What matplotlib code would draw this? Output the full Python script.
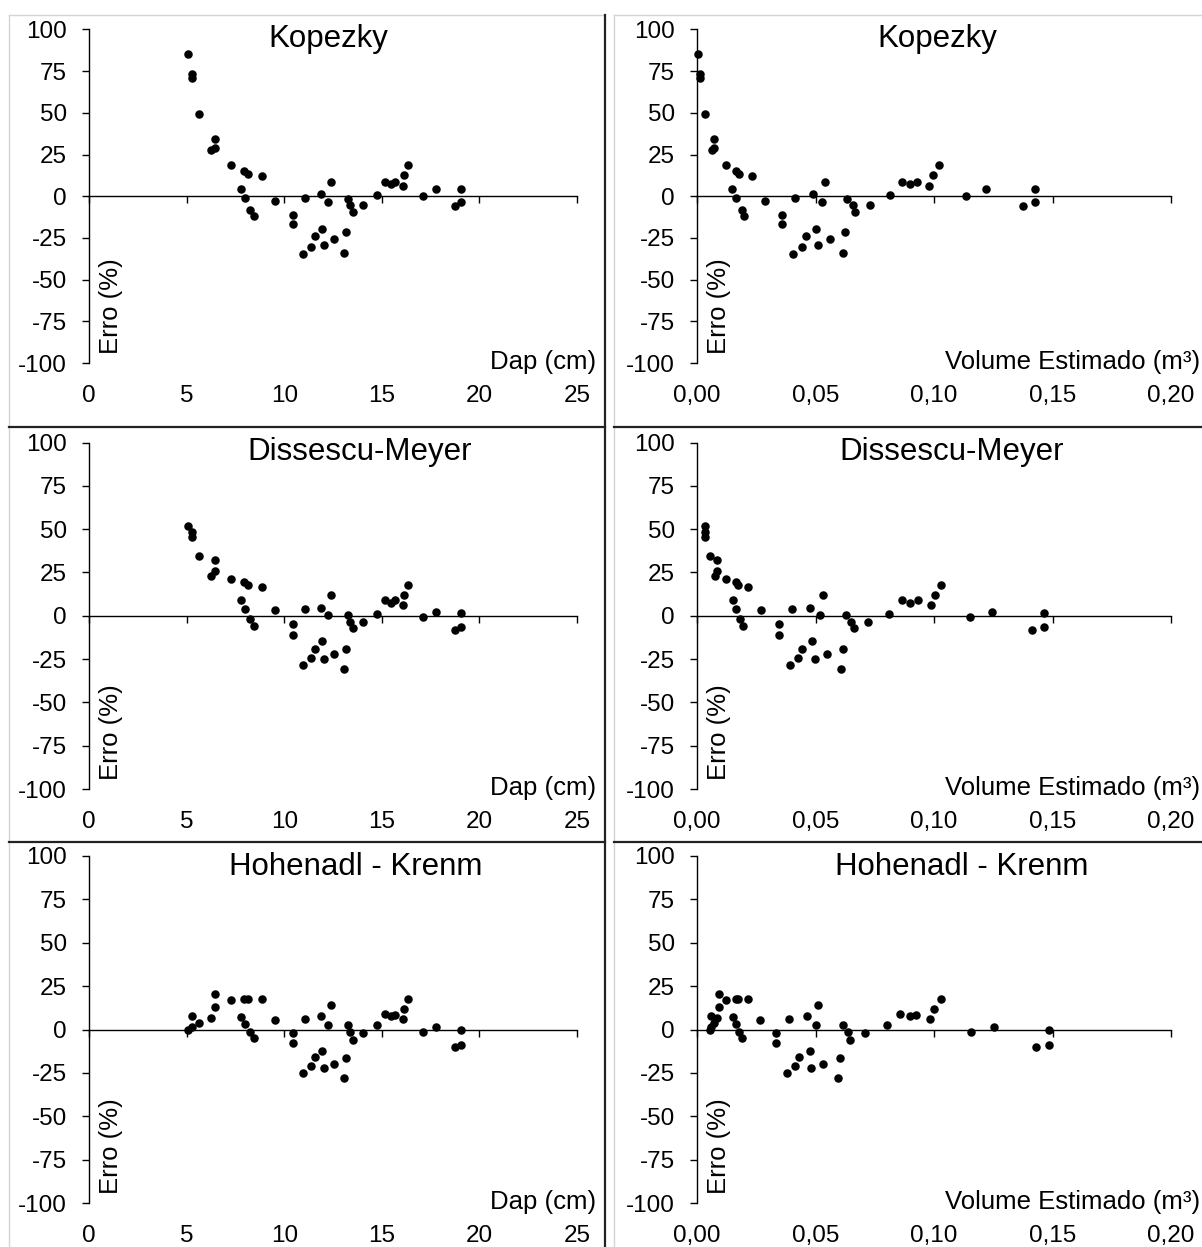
import matplotlib
matplotlib.use("Agg")
import matplotlib.pyplot as plt
from matplotlib.lines import Line2D

plt.rcParams["font.family"] = ["Liberation Sans", "DejaVu Sans"]
plt.rcParams["axes.unicode_minus"] = False

# diametro (cm) das arvores
dap = [5.06, 5.27, 5.27, 5.66, 6.45, 6.25, 6.45, 7.27, 7.77, 7.93, 8.14, 7.97,
       8.26, 8.45, 8.86, 9.54, 10.46, 10.46, 10.97, 11.07, 11.36, 11.56, 11.86,
       11.96, 12.06, 12.25, 12.39, 12.57, 13.04, 13.16, 13.26, 13.39, 13.55,
       14.05, 14.75, 15.15, 15.48, 15.66, 16.07, 16.15, 16.33, 17.13, 17.78,
       18.76, 19.04, 19.04]

# erros (%) por metodo
err_kopezky = [85.3, 73.4, 70.8, 49.5, 34.3, 27.9, 28.7, 18.7, 4.4, 15.2, 13.6,
               -1.2, -8.0, -12.0, 12.0, -2.8, -11.0, -16.6, -34.9, -1.2, -30.3,
               -24.1, 1.6, -19.7, -29.5, -3.6, 8.8, -25.7, -34.1, -21.7, -1.6,
               -5.2, -9.4, -5.0, 0.6, 8.8, 7.4, 8.8, 6.4, 12.6, 18.7, 0.4, 4.2,
               -6.0, 4.2, -3.4]
err_dissescu = [51.9, 48.3, 45.2, 34.2, 32.1, 23.1, 25.8, 21.5, 9.2, 19.6, 17.9,
                3.8, -1.7, -6.0, 16.5, 3.1, -4.8, -11.2, -28.7, 4.0, -24.4,
                -19.0, 4.6, -14.4, -24.8, 0.2, 12.1, -21.9, -30.8, -19.0, 0.6,
                -3.5, -7.3, -3.5, 1.2, 9.0, 7.3, 9.0, 6.2, 11.9, 17.9, -0.6, 2.3,
                -8.1, 1.7, -6.3]
err_hohenadl = [0.0, 7.5, 1.7, 4.0, 20.7, 6.7, 13.2, 17.0, 7.1, 17.6, 17.6,
                3.1, -1.5, -5.0, 17.6, 5.2, -1.9, -8.0, -25.1, 5.9, -21.2,
                -16.1, 7.5, -12.2, -22.2, 2.5, 14.0, -19.9, -27.9, -16.6, 2.5,
                -1.5, -5.9, -2.1, 2.5, 9.0, 8.0, 8.6, 5.9, 11.9, 17.6, -1.5, 1.5,
                -9.8, 0.0, -8.8]

# volume estimado (m3) por metodo
vol_kopezky = [0.0005, 0.0013, 0.0013, 0.0034, 0.0073, 0.0062, 0.0073, 0.0121,
               0.0149, 0.0165, 0.0178, 0.0165, 0.0188, 0.0199, 0.0232, 0.0285,
               0.0360, 0.0360, 0.0405, 0.0415, 0.0442, 0.0458, 0.0491, 0.0500,
               0.0512, 0.0528, 0.0539, 0.0560, 0.0614, 0.0623, 0.0635, 0.0657,
               0.0667, 0.0729, 0.0816, 0.0865, 0.0900, 0.0930, 0.0981, 0.0994,
               0.1022, 0.1134, 0.1221, 0.1377, 0.1427, 0.1427]
vol_dissescu = [0.0032, 0.0035, 0.0035, 0.0053, 0.0085, 0.0074, 0.0085, 0.0124,
                0.0150, 0.0166, 0.0174, 0.0166, 0.0180, 0.0193, 0.0217, 0.0272,
                0.0347, 0.0347, 0.0391, 0.0402, 0.0428, 0.0445, 0.0477, 0.0487,
                0.0498, 0.0519, 0.0531, 0.0548, 0.0606, 0.0617, 0.0627, 0.0650,
                0.0661, 0.0723, 0.0809, 0.0865, 0.0900, 0.0934, 0.0986, 0.1003,
                0.1029, 0.1154, 0.1244, 0.1412, 0.1465, 0.1465]
vol_hohenadl = [0.0053, 0.0061, 0.0058, 0.0072, 0.0092, 0.0085, 0.0092, 0.0124,
                0.0153, 0.0163, 0.0172, 0.0163, 0.0179, 0.0190, 0.0216, 0.0266,
                0.0335, 0.0335, 0.0378, 0.0388, 0.0415, 0.0432, 0.0464, 0.0475,
                0.0480, 0.0501, 0.0512, 0.0533, 0.0593, 0.0602, 0.0615, 0.0636,
                0.0647, 0.0710, 0.0802, 0.0857, 0.0899, 0.0926, 0.0984, 0.1002,
                0.1029, 0.1158, 0.1254, 0.1432, 0.1486, 0.1486]

titles = ["Kopezky", "Dissescu-Meyer", "Hohenadl - Krenm"]
errors = [err_kopezky, err_dissescu, err_hohenadl]
volumes = [vol_kopezky, vol_dissescu, vol_hohenadl]

y_ticks = [-100, -75, -50, -25, 0, 25, 50, 75, 100]
dap_ticks = [0, 5, 10, 15, 20, 25]
dap_labels = ["0", "5", "10", "15", "20", "25"]
vol_ticks = [0.0, 0.05, 0.10, 0.15, 0.20]
vol_labels = ["0,00", "0,05", "0,10", "0,15", "0,20"]

W, H = 1202, 1247
fig = plt.figure(figsize=(W / 100, H / 100), dpi=100)


def fx(x):
    return x / W


def fy(y):
    return 1 - y / H


cols = [(89, 577), (697, 1171)]
rows = [(29.5, 363), (442.5, 789), (856, 1203)]
title_x = [(328, 937), (360, 952), (356, 962)]
title_y = [39, 452, 867]

TICK_FS = 17.5
LABEL_FS = 18.5
TITLE_FS = 22.5


def setup(ax, xmax, ticks, labels, xlabel, xlabel_off):
    ax.set_xlim(0, xmax)
    ax.set_ylim(-100, 100)
    ax.patch.set_alpha(0)
    for s in ["top", "right"]:
        ax.spines[s].set_visible(False)
    ax.spines["bottom"].set_position(("data", 0))
    ax.spines["bottom"].set_linewidth(1.0)
    ax.spines["left"].set_linewidth(1.0)
    ax.set_yticks(y_ticks)
    ax.set_yticklabels([str(v) for v in y_ticks], fontsize=TICK_FS)
    ax.tick_params(axis="y", direction="out", length=5, width=1.0, pad=11)
    ax.set_xticks(ticks)
    ax.tick_params(axis="x", direction="out", length=5, width=1.0,
                   labelbottom=False)
    for t, lab in zip(ticks, labels):
        ax.annotate(lab, xy=(t, 0), xycoords=("data", "axes fraction"),
                    xytext=(0, -23.5), textcoords="offset points",
                    ha="center", va="center", fontsize=TICK_FS)
    ax.annotate(xlabel, xy=(1, 0), xycoords="axes fraction",
                xytext=(xlabel_off, 1), textcoords="offset points",
                ha="right", va="center", fontsize=LABEL_FS)
    ax.annotate("Erro (%)", xy=(0, 0), xycoords="axes fraction",
                xytext=(16, 6.5), textcoords="offset points",
                rotation=90, ha="center", va="bottom", fontsize=LABEL_FS)


for r, (top, bot) in enumerate(rows):
    for c, (left, right) in enumerate(cols):
        ax = fig.add_axes([fx(left), fy(bot), fx(right - left), (bot - top) / H])
        if c == 0:
            ax.scatter(dap, errors[r], s=26, color="black", zorder=3,
                       clip_on=False)
            setup(ax, 25, dap_ticks, dap_labels, "Dap (cm)", 13.5)
        else:
            ax.scatter(volumes[r], errors[r], s=26, color="black", zorder=3,
                       clip_on=False)
            setup(ax, 0.20, vol_ticks, vol_labels,
                  "Volume Estimado (m\u00b3)", 21)
        fig.text(fx(title_x[r][c]), fy(title_y[r]), titles[r],
                 ha="center", va="center", fontsize=TITLE_FS)

# bordas da tabela
gray = "#d4d4d4"
dark = "#222222"
fig.add_artist(Line2D([fx(9), fx(605)], [fy(15), fy(15)], color=gray, lw=1.0))
fig.add_artist(Line2D([fx(614), fx(1202)], [fy(15), fy(15)], color=gray, lw=1.0))
fig.add_artist(Line2D([fx(9), fx(9)], [fy(15), fy(1247)], color=gray, lw=1.0))
fig.add_artist(Line2D([fx(614), fx(614)], [fy(15), fy(1247)], color=gray, lw=1.0))
fig.add_artist(Line2D([fx(605), fx(605)], [fy(15), fy(1247)], color=dark, lw=1.6))
for yy in [427, 842]:
    fig.add_artist(Line2D([fx(9), fx(605)], [fy(yy), fy(yy)], color=dark, lw=1.6))
    fig.add_artist(Line2D([fx(614), fx(1202)], [fy(yy), fy(yy)], color=dark, lw=1.6))

fig.savefig("out.png", dpi=100)
